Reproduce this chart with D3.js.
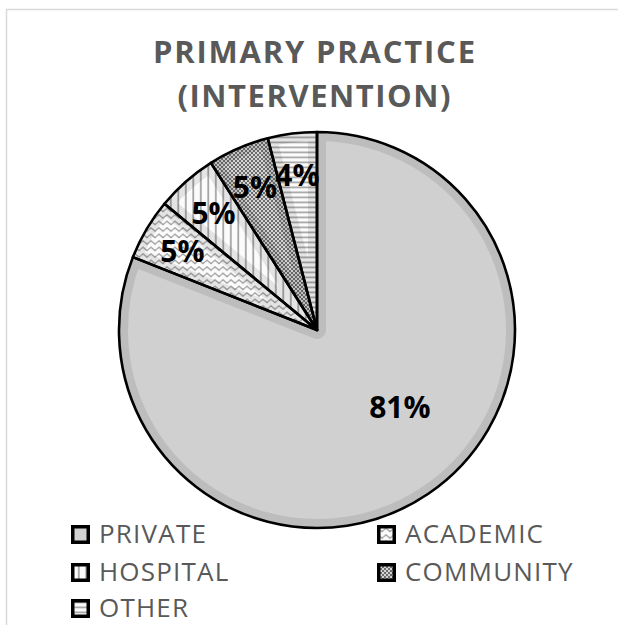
<!DOCTYPE html>
<html>
<head>
<meta charset="utf-8">
<script src="https://cdn.jsdelivr.net/npm/d3@7"></script>
<style>
  html, body { margin: 0; padding: 0; background: #fff; }
  svg { display: block; }
</style>
</head>
<body>
<svg id="chart" width="618" height="625"></svg>
<script>
// Primary practice of the intervention group, share of respondents (%)
const categories = ["PRIVATE", "ACADEMIC", "HOSPITAL", "COMMUNITY", "OTHER"];
const values = [81, 5, 5, 5, 4];
const titleLines = ["PRIMARY PRACTICE", "(INTERVENTION)"];

const svg = d3.select("#chart");
const W = 618, H = 625;
const cx = 317, cy = 330, R = 198;
const textGrey = "#595959";
const fontFamily = "'Open Sans', 'DejaVu Sans', sans-serif";

// Plot-area frame
svg.append("rect")
  .attr("x", 6.5).attr("y", 9.5)
  .attr("width", W + 20).attr("height", H + 20)
  .attr("fill", "#fff")
  .attr("stroke", "#d9d9d9").attr("stroke-width", 1.5);

// ---- Fill patterns for each category ----
const defs = svg.append("defs");
const fills = {};

// solid light grey
fills.PRIVATE = "#d0d0d0";

// wavy lines
const pWave = defs.append("pattern").attr("id", "p-wave")
  .attr("patternUnits", "userSpaceOnUse").attr("width", 8).attr("height", 6.5);
pWave.append("rect").attr("width", 8).attr("height", 6.5).attr("fill", "#fbfbfb");
pWave.append("path").attr("d", "M0,3.5 L2,1.8 L4,3.5 L6,5.2 L8,3.5")
  .attr("fill", "none").attr("stroke", "#9a9a9a").attr("stroke-width", 1.2);
fills.ACADEMIC = "url(#p-wave)";

// vertical lines
const pVert = defs.append("pattern").attr("id", "p-vert")
  .attr("patternUnits", "userSpaceOnUse").attr("width", 7.5).attr("height", 4);
pVert.append("rect").attr("width", 7.5).attr("height", 4).attr("fill", "#fbfbfb");
pVert.append("rect").attr("x", 3).attr("width", 1.6).attr("height", 4).attr("fill", "#9a9a9a");
fills.HOSPITAL = "url(#p-vert)";

// fine checker
const pCheck = defs.append("pattern").attr("id", "p-check")
  .attr("patternUnits", "userSpaceOnUse").attr("width", 4).attr("height", 4);
pCheck.append("rect").attr("width", 4).attr("height", 4).attr("fill", "#d4d4d4");
pCheck.append("rect").attr("width", 2).attr("height", 2).attr("fill", "#6e6e6e");
pCheck.append("rect").attr("x", 2).attr("y", 2).attr("width", 2).attr("height", 2).attr("fill", "#6e6e6e");
fills.COMMUNITY = "url(#p-check)";

// horizontal lines
const pHorz = defs.append("pattern").attr("id", "p-horz")
  .attr("patternUnits", "userSpaceOnUse").attr("width", 4).attr("height", 5);
pHorz.append("rect").attr("width", 4).attr("height", 5).attr("fill", "#fbfbfb");
pHorz.append("rect").attr("y", 1.5).attr("width", 4).attr("height", 1.8).attr("fill", "#aaaaaa");
fills.OTHER = "url(#p-horz)";

// ---- Title ----
const titleWidths = [322, 273];
const title = svg.append("g")
  .attr("font-family", fontFamily).attr("font-weight", 700)
  .attr("font-size", 31).attr("fill", textGrey).attr("text-anchor", "middle");
titleLines.forEach((t, i) => {
  title.append("text")
    .attr("x", 314).attr("y", 63 + i * 44)
    .attr("textLength", titleWidths[i]).attr("lengthAdjust", "spacing")
    .text(t);
});

// ---- Pie ----
const data = categories.map((c, i) => ({ name: c, value: values[i] }));
const pie = d3.pie().value(d => d.value).sort(null);
const arcs = pie(data);
const arc = d3.arc().innerRadius(0).outerRadius(R);

const g = svg.append("g").attr("transform", `translate(${cx},${cy})`);

arcs.forEach((a, i) => {
  const clipId = "clip-" + i;
  defs.append("clipPath").attr("id", clipId)
    .append("path").attr("d", arc(a));
  const sg = g.append("g");
  sg.append("path").attr("d", arc(a)).attr("fill", fills[a.data.name]);
  // soft shading along the inside of each slice edge
  sg.append("path").attr("d", arc(a))
    .attr("fill", "none")
    .attr("stroke", "rgba(0,0,0,0.09)")
    .attr("stroke-width", 18)
    .attr("stroke-linejoin", "round")
    .attr("clip-path", `url(#${clipId})`);
});

// outlines on top
g.selectAll("path.outline").data(arcs).join("path")
  .attr("class", "outline")
  .attr("d", arc)
  .attr("fill", "none")
  .attr("stroke", "#000")
  .attr("stroke-width", 2.6)
  .attr("stroke-linejoin", "round");

// ---- Data labels ----
const labelPlacement = { PRIVATE: { r: 0.57, shift: -13 } };
const defaultPlacement = { r: 0.79, shift: 0 };
g.selectAll("text.lbl").data(arcs).join("text")
  .attr("class", "lbl")
  .attr("font-family", fontFamily).attr("font-weight", 700)
  .attr("font-size", 30).attr("fill", "#000")
  .attr("text-anchor", "middle").attr("dominant-baseline", "central")
  .attr("transform", a => {
    const p = labelPlacement[a.data.name] || defaultPlacement;
    const ang = (a.startAngle + a.endAngle) / 2 + p.shift * Math.PI / 180;
    const rr = p.r * R;
    return `translate(${rr * Math.sin(ang)},${-rr * Math.cos(ang)})`;
  })
  .text(a => a.data.value + "%");

// ---- Legend ----
const legendCols = [71, 377];
const legendRows = [543, 581, 617];
const legend = svg.append("g");
data.forEach((d, i) => {
  const x = legendCols[i % 2];
  const y = legendRows[Math.floor(i / 2)];
  legend.append("rect")
    .attr("x", x + 1.75).attr("y", y - 16.25)
    .attr("width", 15.5).attr("height", 15.5)
    .attr("fill", fills[d.name])
    .attr("stroke", "#000").attr("stroke-width", 3.5);
  legend.append("text")
    .attr("x", x + 28).attr("y", y)
    .attr("font-family", fontFamily).attr("font-size", 26)
    .attr("letter-spacing", 1.2)
    .attr("fill", textGrey)
    .text(d.name);
});
</script>
</body>
</html>
